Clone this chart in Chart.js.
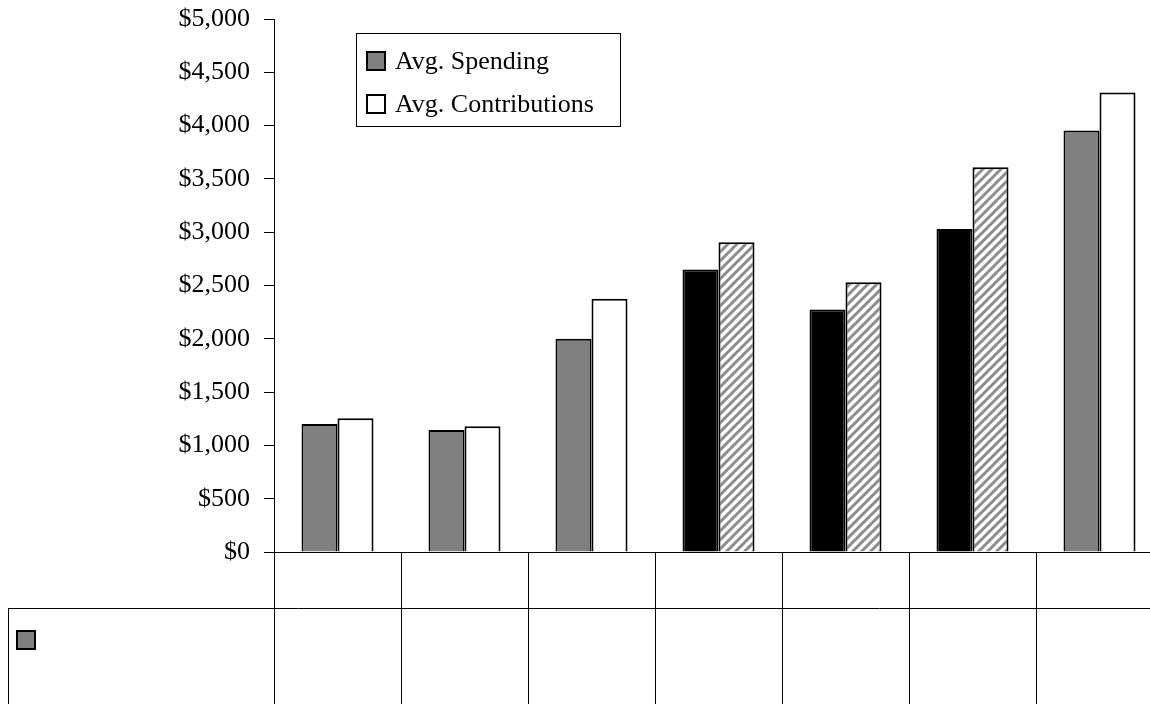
<!DOCTYPE html>
<html>
<head>
<meta charset="utf-8">
<script src="https://cdn.jsdelivr.net/npm/chart.js@4/dist/chart.umd.min.js"></script>
<style>
  html, body { margin: 0; padding: 0; background: #fff; overflow: hidden; }
  #wrap { width: 1170px; height: 704px; position: relative; }
</style>
</head>
<body>
<div id="wrap"><canvas id="c"></canvas></div>
<script>
// ---- data ----
const categories = ['Group 1', 'Group 2', 'Group 3', 'Group 4', 'Group 5', 'Group 6', 'Group 7'];
const seriesNames = ['Avg. Spending', 'Avg. Contributions'];
const spending = [1200, 1145, 2000, 2650, 2275, 3030, 3955];
const contributions = [1255, 1180, 2375, 2905, 2530, 3610, 4310];
const highlighted = [false, false, false, true, true, true, false];
const yTicks = [0, 500, 1000, 1500, 2000, 2500, 3000, 3500, 4000, 4500, 5000];

const FONT = "'Liberation Serif', 'Times New Roman', serif";

// hatch pattern
function makeHatch() {
  const s = 9;
  const pc = document.createElement('canvas');
  pc.width = s; pc.height = s;
  const g = pc.getContext('2d');
  g.fillStyle = '#ffffff';
  g.fillRect(0, 0, s, s);
  g.strokeStyle = '#8c8c8c';
  g.lineWidth = 3;
  g.beginPath();
  g.moveTo(-2, s + 2); g.lineTo(s + 2, -2);
  g.moveTo(-3, 3); g.lineTo(3, -3);
  g.moveTo(s - 3, s + 3); g.lineTo(s + 3, s - 3);
  g.stroke();
  return g.createPattern(pc, 'repeat');
}
const ctx = document.getElementById('c').getContext('2d');
const hatch = makeHatch();

const spendColors = highlighted.map(h => h ? '#000000' : '#808080');
const contribColors = highlighted.map(h => h ? hatch : '#ffffff');

const tablePlugin = {
  id: 'tablePlugin',
  afterDraw(chart) {
    const c = chart.ctx;
    const xs = chart.scales.x;
    const area = chart.chartArea;
    const n = categories.length;
    const catW = (xs.right - xs.left) / n;
    const W = chart.width;
    const yAxis = area.bottom;
    const yRow = 608;
    const yEnd = chart.height;
    c.save();
    c.strokeStyle = '#000';
    c.lineWidth = 1;
    c.beginPath();
    // x-axis line
    c.moveTo(area.left, Math.round(yAxis) + 0.5);
    c.lineTo(W, Math.round(yAxis) + 0.5);
    // row separator
    c.moveTo(8, yRow + 0.5);
    c.lineTo(W, yRow + 0.5);
    // left table border
    c.moveTo(8.5, yRow);
    c.lineTo(8.5, yEnd);
    // category boundaries
    for (let i = 0; i < n; i++) {
      const x = Math.round(xs.left + i * catW) + 0.5;
      c.moveTo(x, yAxis);
      c.lineTo(x, yEnd);
    }
    c.stroke();
    // legend key in table
    c.fillStyle = '#808080';
    c.fillRect(17, 631, 18, 18);
    c.lineWidth = 2;
    c.strokeRect(17, 631, 18, 18);

    // chart legend box
    c.lineWidth = 1;
    c.strokeStyle = '#000';
    c.fillStyle = '#fff';
    c.fillRect(356.5, 33.5, 264, 93);
    c.strokeRect(356.5, 33.5, 264, 93);
    const rows = [
      { text: seriesNames[0], fill: '#808080', cy: 61 },
      { text: seriesNames[1], fill: '#ffffff', cy: 104 }
    ];
    c.font = '26px ' + FONT;
    c.textBaseline = 'middle';
    c.textAlign = 'left';
    rows.forEach(r => {
      c.fillStyle = r.fill;
      c.fillRect(367, r.cy - 9, 18, 18);
      c.lineWidth = 2;
      c.strokeStyle = '#000';
      c.strokeRect(367, r.cy - 9, 18, 18);
      c.fillStyle = '#000';
      c.fillText(r.text, 395, r.cy + 1);
    });
    c.restore();
  }
};

new Chart(ctx, {
  type: 'bar',
  data: {
    labels: categories,
    datasets: [
      { label: seriesNames[0], data: spending, backgroundColor: spendColors, borderColor: '#000', borderWidth: 2 },
      { label: seriesNames[1], data: contributions, backgroundColor: contribColors, borderColor: '#000', borderWidth: 2 }
    ]
  },
  options: {
    responsive: true,
    maintainAspectRatio: false,
    animation: false,
    devicePixelRatio: 1,
    layout: { padding: { left: 0, right: 7, top: 19, bottom: 152 } },
    datasets: { bar: { categoryPercentage: 72 / 127, barPercentage: 1 } },
    plugins: { legend: { display: false }, tooltip: { enabled: false } },
    scales: {
      x: { display: false },
      y: {
        min: 0, max: 5000,
        afterBuildTicks(scale) { scale.ticks = yTicks.map(v => ({ value: v })); },
        afterFit(scale) { scale.width = 274; scale.paddingTop = 0; scale.paddingBottom = 0; },
        ticks: {
          padding: 14,
          color: '#000',
          font: { family: FONT, size: 26 },
          callback: v => '$' + Number(v).toLocaleString('en-US')
        },
        grid: { drawOnChartArea: false, drawTicks: true, tickLength: 10, color: '#000', lineWidth: 1 },
        border: { display: true, color: '#000', width: 1 }
      }
    }
  },
  plugins: [tablePlugin]
});
</script>
</body>
</html>
